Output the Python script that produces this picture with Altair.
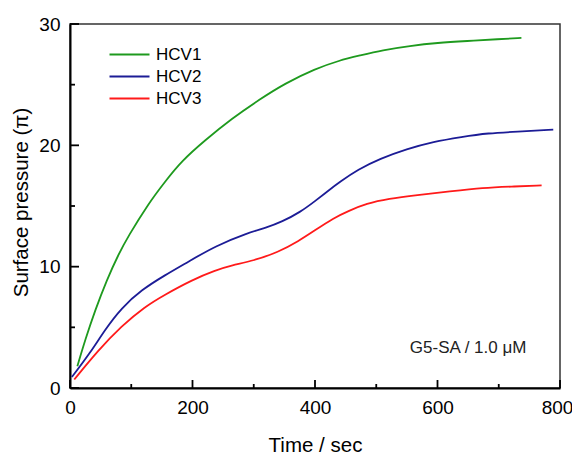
import altair as alt
import pandas as pd

# ---- data ----
series_names = ["HCV1", "HCV2", "HCV3"]
series_colors = ["#1e9a1e", "#1c1c96", "#ff1a1a"]

hcv1_time = [12, 25, 41, 60, 79, 95, 128, 155, 182, 220, 264, 310, 351, 400,
             440, 473, 510, 555, 600, 648, 700, 737]
hcv1_pi = [1.8, 4.0, 6.4, 8.9, 11.0, 12.5, 15.2, 17.0, 18.7, 20.4, 22.2, 23.8, 25.1, 26.3,
           27.0, 27.4, 27.85, 28.2, 28.45, 28.6, 28.75, 28.85]

hcv2_time = [3, 33, 57, 84, 117, 155, 193, 237, 291, 320, 346, 376, 400, 420,
             441, 470, 506, 550, 593, 640, 680, 740, 789]
hcv2_pi = [0.9, 2.9, 4.8, 6.6, 8.1, 9.3, 10.4, 11.7, 12.8, 13.2, 13.7, 14.5, 15.4, 16.2,
           17.0, 18.0, 18.9, 19.7, 20.3, 20.7, 21.0, 21.15, 21.3]

hcv3_time = [7, 46, 84, 122, 155, 199, 237, 264, 300, 340, 373, 400, 430, 455,
             484, 520, 566, 620, 675, 720, 770]
hcv3_pi = [0.7, 3.1, 5.1, 6.7, 7.7, 8.9, 9.7, 10.1, 10.5, 11.2, 12.1, 13.0, 14.0, 14.6,
           15.2, 15.6, 15.9, 16.2, 16.5, 16.6, 16.7]

x_domain = [0, 800]
y_domain = [0, 30]
x_major = [0, 200, 400, 600, 800]
x_minor = [100, 300, 500, 700]
y_major = [0, 10, 20, 30]
y_minor = [5, 15, 25]

note_time = [650]
note_pi = [2.9]
note_text = ["G5-SA / 1.0 \u03bcM"]

W, H = 490, 364
MAJOR_PX, MINOR_PX = 8, 4          # inward tick lengths in pixels
CURVE_W, TICK_W = 1.8, 1.8

# ---- one table: curves plus inward tick segments ----
rows = []
for i, (name, ts, vs) in enumerate(zip(series_names, [hcv1_time, hcv2_time, hcv3_time],
                                       [hcv1_pi, hcv2_pi, hcv3_pi])):
    for t, v in zip(ts, vs):
        rows.append({"series": name, "tid": "c%d" % i, "w": CURVE_W, "time": t, "pi": v})

# tick lengths converted from pixels to data units through the plot size
y_per_px = (y_domain[1] - y_domain[0]) / H
x_per_px = (x_domain[1] - x_domain[0]) / W
k = 0
for vals, px in [(x_major, MAJOR_PX), (x_minor, MINOR_PX)]:
    for t in vals:
        for v in (y_domain[0], y_domain[0] + px * y_per_px):
            rows.append({"series": "tick", "tid": "t%d" % k, "w": TICK_W, "time": t, "pi": v})
        k += 1
for vals, px in [(y_major, MAJOR_PX + 1), (y_minor, MINOR_PX + 1)]:
    for v in vals:
        for t in (x_domain[0], x_domain[0] + px * x_per_px):
            rows.append({"series": "tick", "tid": "t%d" % k, "w": TICK_W, "time": t, "pi": v})
        k += 1
df = pd.DataFrame(rows)

note_df = pd.DataFrame({"time": note_time, "pi": note_pi, "label": note_text})

FONT = "Liberation Sans"
xs = alt.Scale(domain=x_domain, nice=False, zero=False)
ys = alt.Scale(domain=y_domain, nice=False, zero=False)

x_axis = alt.Axis(values=x_major, format="d", ticks=False, grid=False, labelFlush=False,
                  title="Time / sec", labelPadding=10,
                  labelOffset=alt.ExprRef("datum.value == 800 ? -3 : 0"),
                  titleBaseline="alphabetic", titleY=63, titleX=245)
y_axis = alt.Axis(values=y_major, format="d", ticks=False, grid=False, labelFlush=False,
                  title="Surface pressure (\u03c0)", labelPadding=10,
                  titleBaseline="alphabetic", titleX=-43, titleY=178,
                  titleAngle=270, titleAlign="center")

X = lambda: alt.X("time:Q", scale=xs, axis=x_axis)
Y = lambda: alt.Y("pi:Q", scale=ys, axis=y_axis)

lines = alt.Chart(df).mark_line(interpolate="basis").encode(
    x=X(), y=Y(),
    detail="tid:N",
    size=alt.Size("w:Q", scale=None, legend=None),
    color=alt.Color("series:N",
                    scale=alt.Scale(domain=series_names + ["tick"],
                                    range=series_colors + ["#000000"]),
                    legend=alt.Legend(orient="none", legendX=48, legendY=19, title=None,
                                      values=series_names,
                                      symbolType="M-2,0H2", symbolSize=400,
                                      symbolStrokeWidth=2.2, labelFontSize=17,
                                      labelFont=FONT, labelColor="black",
                                      labelOffset=15, rowPadding=2)),
)

note = alt.Chart(note_df).mark_text(
    font=FONT, fontSize=17, color="#222222", align="center", baseline="alphabetic").encode(
    x=X(), y=Y(), text="label:N")

chart = alt.layer(lines, note).properties(
    width=W, height=H,
    autosize=alt.AutoSizeParams(type="none"),
    padding={"left": 62, "top": 16, "right": 12, "bottom": 70},
    background="white",
).configure_view(stroke="#333333", strokeWidth=1.5).configure_axis(
    labelFont=FONT, labelFontSize=19, labelColor="black",
    titleFont=FONT, titleFontSize=20.5, titleFontWeight="normal", titleColor="black",
    domainColor="black", domainWidth=2,
)

chart.save("out.html", embed_options={"renderer": "svg", "actions": False})
